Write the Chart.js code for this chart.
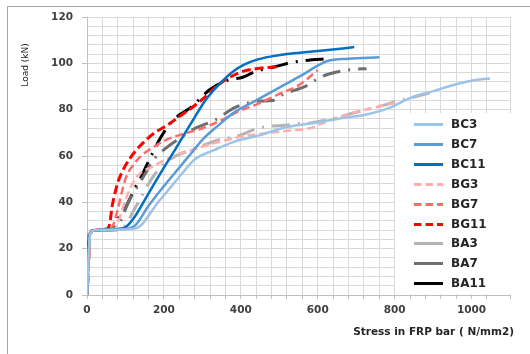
<!DOCTYPE html>
<html><head><meta charset="utf-8">
<script src="https://cdn.jsdelivr.net/npm/chart.js@4"></script>
<style>html,body{margin:0;padding:0;background:#fff}canvas{display:block}</style>
</head><body>
<canvas id="c" width="530" height="354" style="width:530px;height:354px"></canvas>
<script>
// ---- data ----
const seriesNames = ['BC3','BC7','BC11','BG3','BG7','BG11','BA3','BA7','BA11'];
const xTickLabels = [0,200,400,600,800,1000];
const yTickLabels = [0,20,40,60,80,100,120];
const xTitle = 'Stress in FRP bar ( N/mm2)';
const yTitle = 'Load (kN)';

const bc3Stress = [0,8,20,120,140,180,220,250,280,330,380,450,520,580,650,730,790,840,900,960,1000,1048];
const bc3Load   = [0,26,28,28.5,30,39,47,53,58.5,62.5,66,69,72.5,74,76,78,81,85,88,91,92.5,93.5];

const bc7Stress = [0,7,20,100,125,160,200,240,270,300,340,380,440,500,560,600,625,680,760];
const bc7Load   = [0,26,28,28.5,30,38.5,47,55,61,67,73,78.5,84,89.5,95,99,101,102,102.6];

const bc11Stress = [0,7,20,80,102,125,150,180,200,230,270,310,350,380,410,440,480,520,580,640,695];
const bc11Load   = [0,26,28,28.5,29.5,34,41,49.5,55,63,74,84.5,92,96.5,99.5,101.5,103,104,105,106,107];

const bg3Stress = [0,4,8,20,70,80,90,100,115,135,165,200,240,270,330,400,470,530,580,610,640,700,750,811];
const bg3Load   = [0,12,27,28,28.5,31,36,41,47,52,55,58,61,62.5,65.5,68.3,70,71,72,74,76,79,81,83.3];

const bg7Stress = [0,4,8,20,60,70,80,90,102,120,140,170,206,250,300,350,396,440,500,550,600];
const bg7Load   = [0,12,27,28,28.5,31,37,44,51,56,60,63.5,67,69.5,72,75.5,79.4,82.2,86.8,90.5,97];

const bg11Stress = [0,3,6,20,50,58,62,65,70,80,97,123,154,180,206,240,270,300,344,396,440,500];
const bg11Load   = [0,12,27,28,28.5,30,34,38,42,48.5,55,61.5,67,70.5,73,77,80.5,84.5,91,96,97.7,98.6];

const ba3Stress = [0,4,8,20,80,100,120,140,160,190,225,260,292,344,388,414,445,526,548,582,630,703,777,807,840,907];
const ba3Load   = [0,12,26,28,28,30,36,42,48,55,59.5,62,64,67,68.5,70,72,73.5,74,74.3,75.8,79,82.2,83.7,85,88];

const ba7Stress = [0,4,8,20,65,80,95,110,128,150,171,206,240,275,335,383,448,483,509,569,597,625,695,727];
const ba7Load   = [0,12,26,28,28,29.5,35,41,46,52,58,63.5,67.5,71.4,75.7,80.8,83.7,84,86.5,90.2,93,95.2,97.4,97.7];

const ba11Stress = [0,3,6,20,55,67,76,93,110,124,141,154,176,190,223,270,292,318,362,405,440,474,500,530,565,630];
const ba11Load   = [0,12,26,28,28,28.5,31.8,35.5,41,46,51,55.6,63,67.5,75.3,81,84.4,88.5,92.5,94,96.6,98,99,100.3,101.2,102];

// ---- styles ----
const stressArrays = [bc3Stress,bc7Stress,bc11Stress,bg3Stress,bg7Stress,bg11Stress,ba3Stress,ba7Stress,ba11Stress];
const loadArrays   = [bc3Load,bc7Load,bc11Load,bg3Load,bg7Load,bg11Load,ba3Load,ba7Load,ba11Load];
const colors = ['#9DC3E6','#5B9BD5','#0070C0','#FFADAD','#FF6B6B','#FF0000','#B4B4B4','#6E6E6E','#000000'];
const widths = [2.5,2.5,2.5,2.5,2.5,3,3,3,3];
const dashes = [[],[],[],[8,4],[8,4],[9,4],[18,8,2,8],[18,8,2,8],[18,8,2,8]];
const legendDashes = [[],[],[],[7.5,4],[7.5,4],[7.5,4],[],[],[]];
const FONT = "'DejaVu Sans', 'Liberation Sans', sans-serif";

const datasets = seriesNames.map((name,i)=>({
  label: name,
  data: stressArrays[i].map((x,j)=>({x:x, y:loadArrays[i][j]})),
  showLine: true,
  borderColor: colors[i],
  backgroundColor: colors[i],
  borderWidth: widths[i],
  borderDash: dashes[i],
  pointRadius: 0,
  cubicInterpolationMode: 'monotone',
  fill: false
}));

const decor = {
  id: 'decor',
  beforeDraw(chart){
    const c = chart.ctx;
    c.save();
    c.fillStyle = '#fff';
    c.fillRect(0,0,chart.width,chart.height);
    c.strokeStyle = '#A6A6A6';
    c.lineWidth = 1;
    c.strokeRect(7.5,6.5,600,600);
    c.restore();
  },
  afterDraw(chart){
    const c = chart.ctx;
    c.save();
    // axis titles
    c.fillStyle = '#262626';
    c.font = '9px ' + FONT;
    c.translate(26,65);
    c.rotate(-Math.PI/2);
    c.textAlign = 'center';
    c.textBaseline = 'middle';
    c.fillText(yTitle,0,0);
    c.setTransform(1,0,0,1,0,0);
    c.font = 'bold 10.5px ' + FONT;
    c.textAlign = 'right';
    c.textBaseline = 'middle';
    c.fillText(xTitle,514,332);
    // legend
    c.fillStyle = '#fff';
    c.fillRect(395,113,116,181);
    c.font = 'bold 12px ' + FONT;
    c.textAlign = 'left';
    c.textBaseline = 'middle';
    seriesNames.forEach((name,i)=>{
      const y = Math.round(124 + i*19.9) + 0.5;
      c.beginPath();
      c.strokeStyle = colors[i];
      c.lineWidth = 3;
      c.setLineDash(legendDashes[i]);
      c.moveTo(414,y); c.lineTo(443,y);
      c.stroke();
      c.setLineDash([]);
      c.fillStyle = '#262626';
      c.fillText(name,451,y+0.5);
    });
    c.restore();
  }
};

new Chart(document.getElementById('c'), {
  type: 'scatter',
  data: { datasets },
  options: {
    responsive: false,
    animation: false,
    devicePixelRatio: 1,
    layout: { padding: { left: 0, right: 20, top: 17, bottom: 0 } },
    plugins: { legend: { display: false }, tooltip: { enabled: false } },
    scales: {
      x: {
        type: 'linear', min: 0, max: 1100,
        afterFit: s => { s.height = 59; },
        ticks: {
          stepSize: 40, autoSkip: false, maxRotation: 0, minRotation: 0, padding: 5,
          color: '#404040', font: { family: FONT, size: 10.5, weight: 'bold' },
          callback: v => xTickLabels.includes(v) ? String(v) : ''
        },
        grid: { color: '#D9D9D9', lineWidth: 1, tickLength: 4, tickColor: '#BFBFBF' },
        border: { color: '#BFBFBF' }
      },
      y: {
        type: 'linear', min: 0, max: 120,
        afterFit: s => { s.width = 87; },
        ticks: {
          stepSize: 4, autoSkip: false, padding: 9,
          color: '#404040', font: { family: FONT, size: 10.5, weight: 'bold' },
          callback: v => yTickLabels.includes(v) ? String(v) : ''
        },
        grid: { color: '#D9D9D9', lineWidth: 1, tickLength: 5,
          tickColor: ctx => (ctx.tick && yTickLabels.includes(ctx.tick.value)) ? '#BFBFBF' : 'rgba(0,0,0,0)' },
        border: { color: '#BFBFBF' }
      }
    }
  },
  plugins: [decor]
});
</script>
</body></html>
